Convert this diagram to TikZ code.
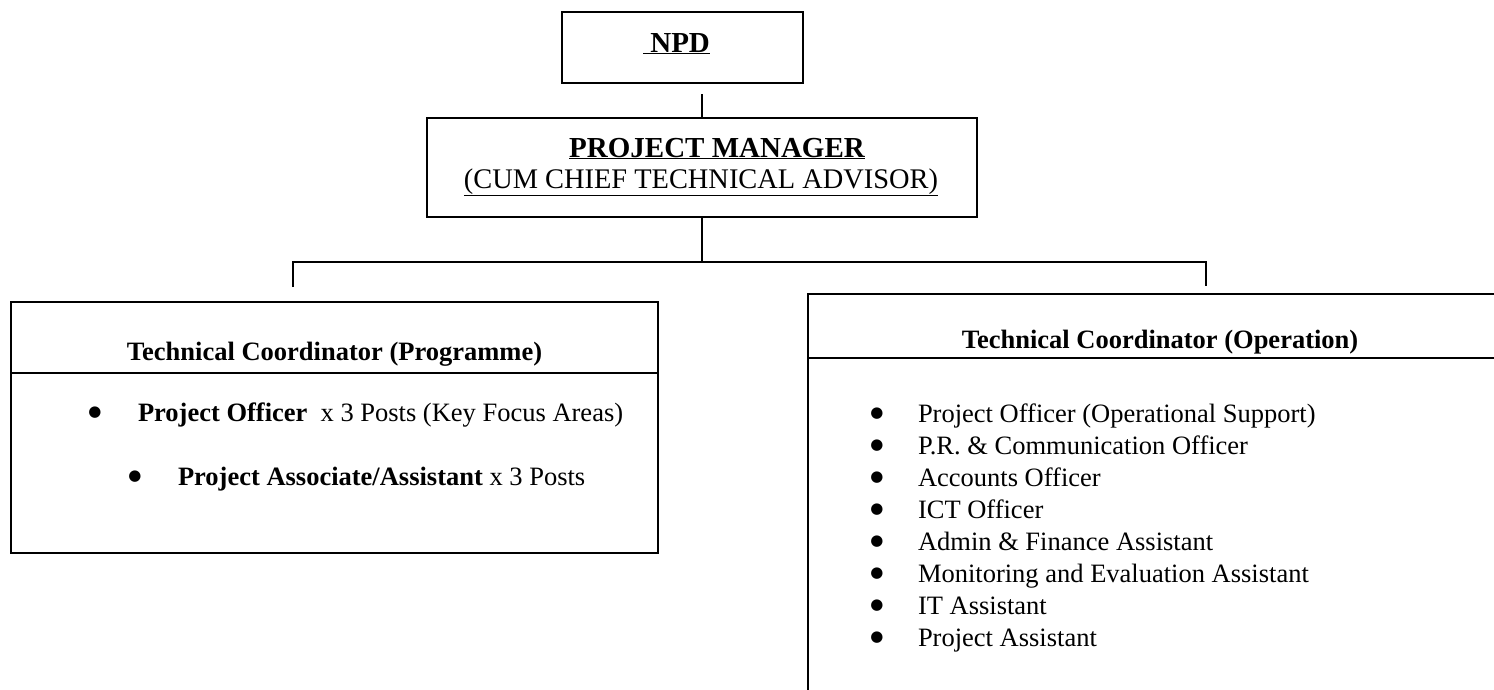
\documentclass[tikz,border=0pt]{standalone}
\usepackage{fontspec}
\setmainfont{Liberation Serif}
\newfontfamily\symfont{DejaVu Sans}
\newcommand\bodyfs{\fontsize{26.5}{31.8}\selectfont}
\newcommand\headfs{\fontsize{29}{34}\selectfont}
\newcommand\subfs{\fontsize{28.4}{34}\selectfont}
\newcommand\bulfs{\symfont\fontsize{15}{16}\selectfont}
\begin{document}
\begin{tikzpicture}[x=1pt,y=-1pt,
  box/.style={draw, line width=1.6pt, inner sep=0pt, outer sep=0pt},
  wire/.style={line width=1.4pt},
  edge/.style={line width=1.6pt},
  ctr/.style={inner sep=0pt, outer sep=0pt, anchor=base},
  txt/.style={inner sep=0pt, outer sep=0pt, anchor=base west, font=\bodyfs},
  bul/.style={inner sep=0pt, outer sep=0pt, anchor=center, font=\bulfs}]
\useasboundingbox (0,0) rectangle (1494,689);
\clip (0,0) rectangle (1494,689);

% NPD
\node[box, minimum width=241pt, minimum height=71pt] (npd) at (682.5,47.5) {};
\node[ctr, font=\headfs\bfseries] (npdt) at (676.5,52) {\underline{\ NPD}};

% Project manager
\node[box, minimum width=550pt, minimum height=99pt] (pm) at (702,167.5) {};
\node[ctr, font=\headfs\bfseries] (pmt) at (717,157) {\underline{PROJECT MANAGER}};
\node[ctr, font=\subfs] (pms) at (701,188) {\underline{(CUM CHIEF TECHNICAL ADVISOR)}};

% connectors
\coordinate (c1) at (702,94);
\draw[wire] (c1) -- (c1 |- pm.north);
\coordinate (bus) at (702,262);
\coordinate (bl) at (293,262);
\coordinate (br) at (1206,262);
\coordinate (dl) at (293,287);
\coordinate (dr) at (1206,286);
\draw[wire] (pm.south -| bus) -- (bus);
\draw[wire] (dl) -- (bl) -- (br) -- (dr);

% left box
\node[box, minimum width=647pt, minimum height=251pt, anchor=north west] (lbox) at (11,302) {};
\coordinate (ldiv) at (0,373);
\draw[edge] (lbox.west |- ldiv) -- (lbox.east |- ldiv);
\node[ctr, font=\bodyfs\bfseries] (ltitle) at (334.5,360) {Technical Coordinator (Programme)};
\node[bul] (lb1) at (95,413) {●};
\node[txt] (lt1) at (138,421) {\textbf{Project Officer}\ \ x 3 Posts (Key Focus Areas)};
\node[bul] (lb2) at (135,477) {●};
\node[txt] (lt2) at (178,485) {\textbf{Project Associate/Assistant} x 3 Posts};

% right box (open to the right and bottom)
\coordinate (rtl) at (808,294);
\coordinate (rbl) at (808,700);
\coordinate (rtr) at (1510,294);
\coordinate (rdiv) at (0,358);
\draw[edge] (rbl) -- (rtl) -- (rtr);
\draw[edge] (rtl |- rdiv) -- (rtr |- rdiv);
\node[ctr, font=\bodyfs\bfseries] (rtitle) at (1160,348) {Technical Coordinator (Operation)};
\foreach \t [count=\i from 0] in {Project Officer (Operational Support),
  P.R. \& Communication Officer, Accounts Officer, ICT Officer,
  Admin \& Finance Assistant, Monitoring and Evaluation Assistant,
  IT Assistant, Project Assistant} {
  \node[bul] (rb\i) at (877,414+32*\i) {●};
  \node[txt] (rt\i) at (918,422+32*\i) {\t};
}
\end{tikzpicture}
\end{document}
